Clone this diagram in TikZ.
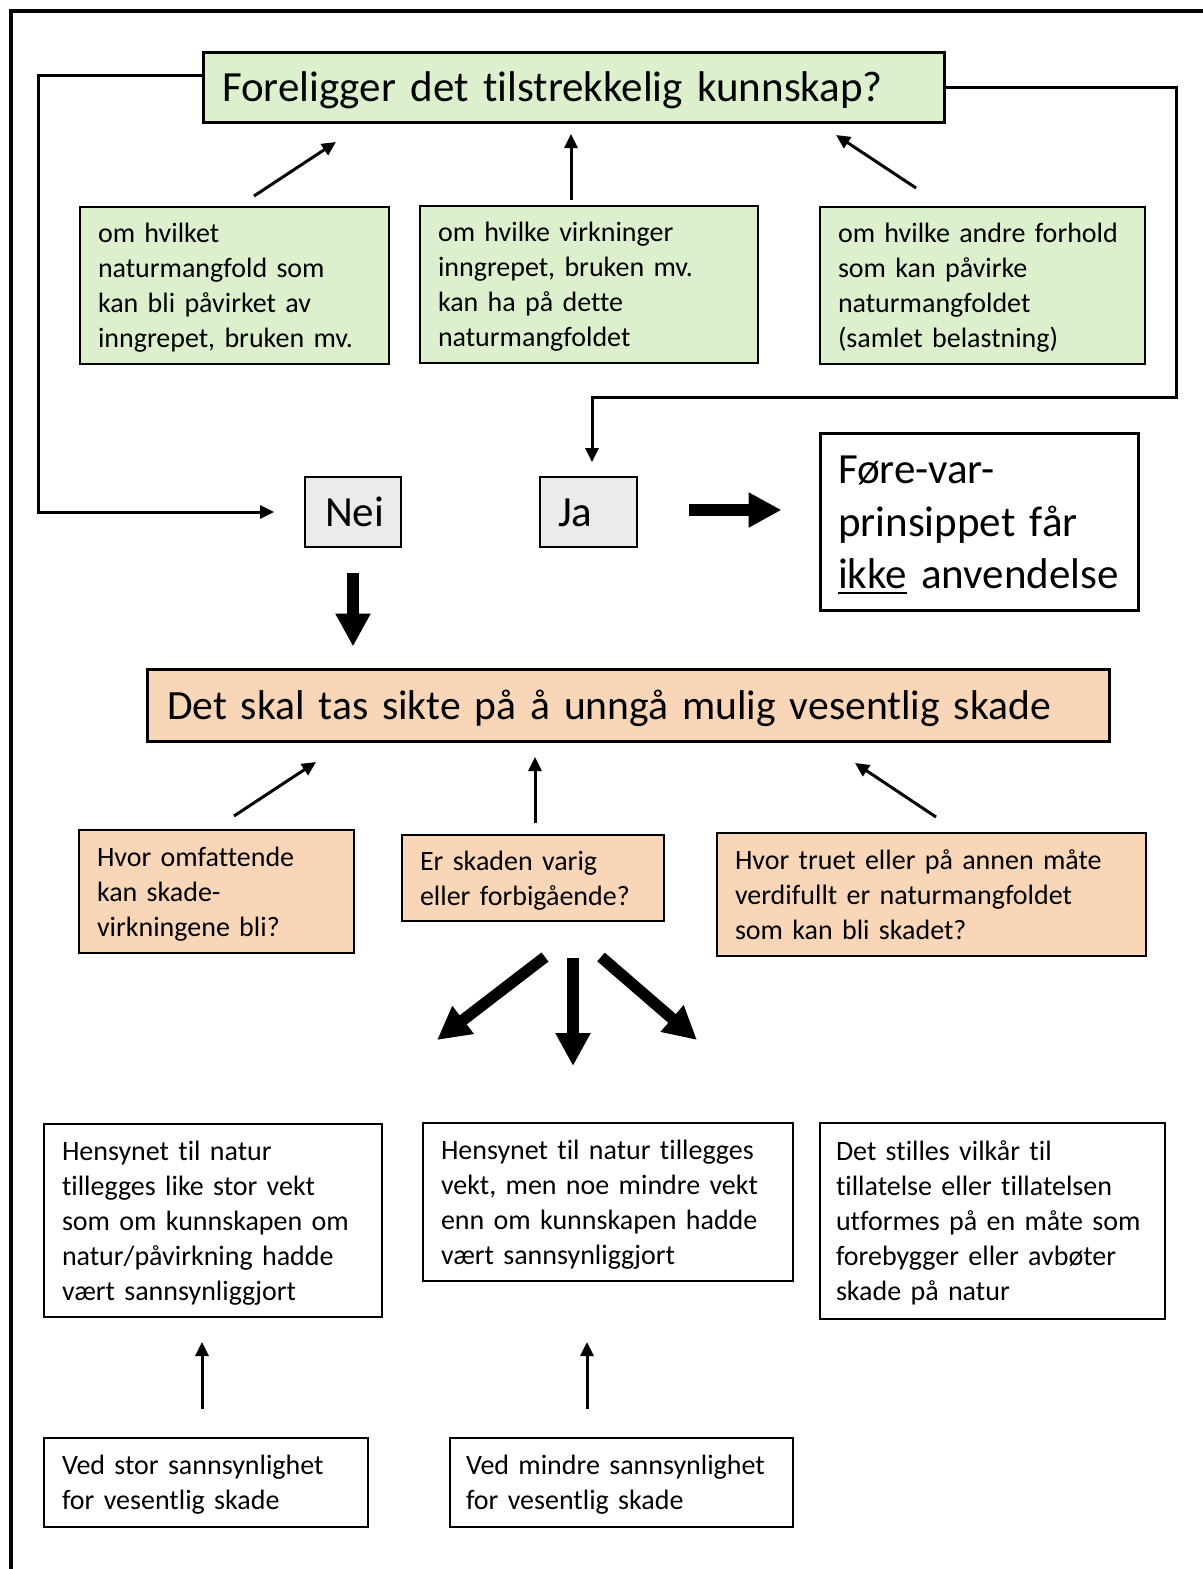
\documentclass[tikz,border=0pt]{standalone}
\usepackage{fontspec}
\setmainfont{Carlito}[Ligatures=NoCommon]
\usetikzlibrary{arrows.meta}
\definecolor{lysgronn}{RGB}{221,240,205}
\definecolor{lysoransje}{RGB}{249,214,183}
\definecolor{lysgraa}{RGB}{235,235,235}
\newcommand\liten{\fontsize{14}{17.5}\selectfont}
\newcommand\stor{\fontsize{21.5}{26.25}\selectfont}
\newcommand\topp{\rule{0pt}{0.952em}}
\newcommand\bunn{\rule[-0.269em]{0pt}{0.269em}}
\newcommand\understrek[1]{\leavevmode\setbox0\hbox{#1}\rlap{\rule[-2.5pt]{\wd0}{1pt}}\box0\relax}
\begin{document}
\begin{tikzpicture}[x=0.5pt,y=-0.5pt,
    boks/.style={draw, line width=0.8pt, inner sep=0pt, align=left, font=\liten,
      execute at begin node=\topp, execute at end node=\bunn},
    gronn/.style={boks, fill=lysgronn},
    oransje/.style={boks, fill=lysoransje},
    hvit/.style={boks, fill=white},
    tynnpil/.style={line width=1.5pt, -{Triangle[length=7pt,width=6.5pt]}},
    fetpil/.style={line width=5.75pt, -{Triangle[length=16.5pt,width=16.5pt]}}]
  \useasboundingbox (0,0) rectangle (1203,1569);
  % ramme
  \draw[line width=2pt] (11,1569) -- (11,11) -- (1203,11);
  % kunnskap
  \node[gronn, line width=1.5pt, font=\stor, minimum width=370.5pt, minimum height=35pt, text width=351.5pt] (tittel) at (573.5,87) {Foreligger det tilstrekkelig kunnskap?};
  \node[gronn, minimum width=154.5pt, minimum height=78.5pt, text width=136.5pt] (g1) at (234.5,285.5)
    {om hvilket\\naturmangfold som\\kan bli påvirket av\\inngrepet, bruken mv.};
  \node[gronn, minimum width=169pt, minimum height=78.5pt, text width=151pt] (g2) at (589,284.5)
    {om hvilke virkninger\\inngrepet, bruken mv.\\kan ha på dette\\naturmangfoldet};
  \node[gronn, minimum width=162.5pt, minimum height=78.5pt, text width=144.5pt] (g3) at (982.5,285.5)
    {om hvilke andre forhold\\som kan påvirke\\naturmangfoldet\\(samlet belastning)};
  \coordinate (g1a) at (254,196);
  \coordinate (g1b) at (336,142);
  \coordinate (g2a) at (571,200);
  \coordinate (g2b) at (571,134);
  \coordinate (g3a) at (916,188);
  \coordinate (g3b) at (836,135);
  \draw[tynnpil] (g1a) -- (g1b);
  \draw[tynnpil] (g2a) -- (g2b);
  \draw[tynnpil] (g3a) -- (g3b);
  % nei / ja
  \node[boks, fill=lysgraa, line width=1pt, font=\stor, minimum width=48pt, minimum height=35pt, text width=28pt] (nei) at (353,512) {Nei};
  \node[boks, fill=lysgraa, line width=1pt, font=\stor, minimum width=48.5pt, minimum height=35pt, text width=30.5pt] (ja) at (588.5,512) {Ja};
  \node[hvit, line width=1.5pt, font=\stor, minimum width=159pt, minimum height=88.5pt, text width=141pt] (fore) at (979,521.5)
    {Føre-var-\\prinsippet får\\\understrek{ikke} anvendelse};
  \coordinate (venstre) at (38,512);
  \coordinate (hoyre) at (1176,397);
  \draw[tynnpil, shorten >=15pt] ([yshift=6pt]tittel.west) -| (venstre) -- (nei.west);
  \draw[tynnpil, shorten >=7pt] (tittel.east) -| (hoyre) -| ([xshift=1.75pt]ja.north);
  \draw[fetpil, shorten <=25.5pt, shorten >=18.5pt] ([yshift=1pt]ja.east) -- ([yshift=1pt]ja.east -| fore.west);
  % skade
  \node[oransje, line width=1.5pt, font=\fontsize{20.8}{25.4}\selectfont, minimum width=481pt, minimum height=36pt, text width=461pt] (skade) at (628,705)
    {Det skal tas sikte på å unngå mulig vesentlig skade};
  \draw[fetpil, shorten <=12.5pt, shorten >=10.5pt] (nei.south) -- (nei.south |- skade.north);
  \node[oransje, minimum width=137.5pt, minimum height=61.5pt, text width=119.5pt] (o1) at (216.5,891.5)
    {Hvor omfattende\\kan skade-\\virkningene bli?};
  \node[oransje, minimum width=131pt, minimum height=43pt, text width=113pt] (o2) at (533,878)
    {Er skaden varig\\eller forbigående?};
  \node[oransje, minimum width=214.5pt, minimum height=61.5pt, text width=196.5pt] (o3) at (931.5,894.5)
    {Hvor truet eller på annen måte\\verdifullt er naturmangfoldet\\som kan bli skadet?};
  \coordinate (o1a) at (234,816);
  \coordinate (o1b) at (316,762);
  \coordinate (o2a) at (535,823);
  \coordinate (o2b) at (535,757);
  \coordinate (o3a) at (936,817);
  \coordinate (o3b) at (855,763);
  \draw[tynnpil] (o1a) -- (o1b);
  \draw[tynnpil] (o2a) -- (o2b);
  \draw[tynnpil] (o3a) -- (o3b);
  % tre utfall
  \coordinate (f1a) at (545,957);
  \coordinate (f1b) at (437,1040);
  \coordinate (f2a) at (573,958);
  \coordinate (f2b) at (573,1066);
  \coordinate (f3a) at (601,957);
  \coordinate (f3b) at (697,1040);
  \draw[fetpil] (f1a) -- (f1b);
  \draw[fetpil] (f2a) -- (f2b);
  \draw[fetpil] (f3a) -- (f3b);
  \node[hvit, minimum width=169pt, minimum height=96.5pt, text width=151pt] (w1) at (213,1220.5)
    {Hensynet til natur\\tillegges like stor vekt\\som om kunnskapen om\\natur/påvirkning hadde\\vært sannsynliggjort};
  \node[hvit, minimum width=185pt, minimum height=79pt, text width=167pt] (w2) at (608,1202)
    {Hensynet til natur tillegges\\vekt, men noe mindre vekt\\enn om kunnskapen hadde\\vært sannsynliggjort};
  \node[hvit, minimum width=172.5pt, minimum height=98pt, text width=156.5pt] (w3) at (992.5,1221)
    {Det stilles vilkår til\\tillatelse eller tillatelsen\\utformes på en måte som\\forebygger eller avbøter\\skade på natur};
  % sannsynlighet
  \node[hvit, minimum width=162pt, minimum height=44.5pt, text width=144pt] (w4) at (206,1482.5)
    {Ved stor sannsynlighet\\for vesentlig skade};
  \node[hvit, minimum width=171.5pt, minimum height=44.5pt, text width=155.5pt] (w5) at (621.5,1482.5)
    {Ved mindre sannsynlighet\\for vesentlig skade};
  \coordinate (w4a) at (202,1409);
  \coordinate (w4b) at (202,1342);
  \coordinate (w5a) at (587,1409);
  \coordinate (w5b) at (587,1342);
  \draw[tynnpil] (w4a) -- (w4b);
  \draw[tynnpil] (w5a) -- (w5b);
\end{tikzpicture}
\end{document}
